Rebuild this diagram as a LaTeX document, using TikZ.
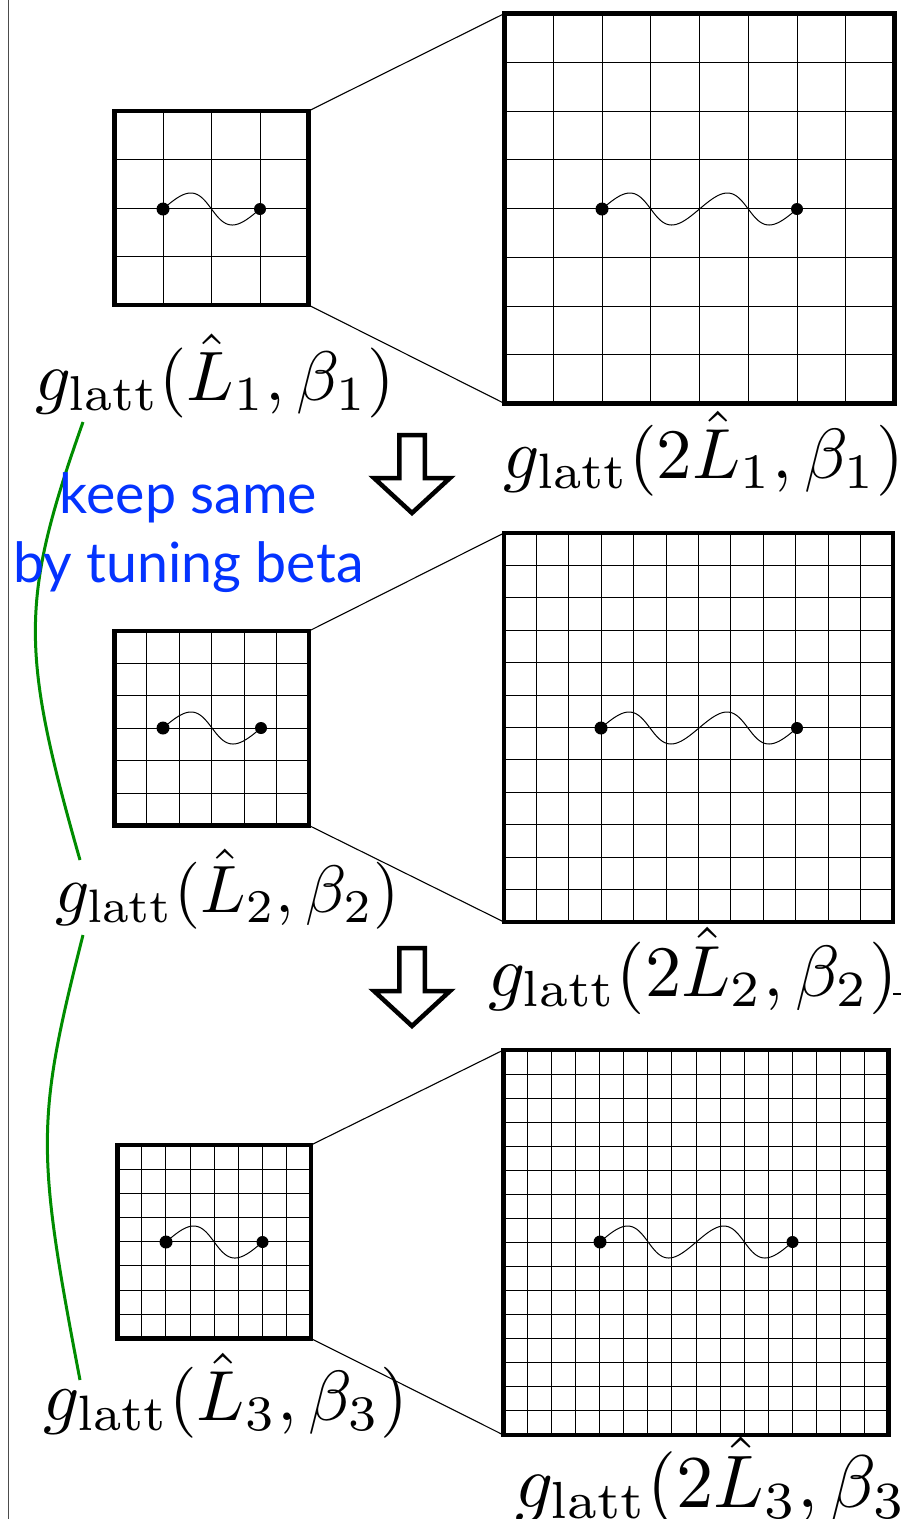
\documentclass[tikz,border=0pt]{standalone}
\usepackage{fontspec}
\usepackage{graphicx}
\newfontfamily\gillfont{Lato}
\definecolor{kblue}{RGB}{4,51,255}
\definecolor{kgreen}{RGB}{0,140,0}
\tikzset{
  gridbox/.style={draw, line width=4.2pt, inner sep=0pt, outer sep=0pt},
  gline/.style={line width=1.5pt},
  zoomline/.style={line width=1.1pt},
  wave/.style={line width=1.0pt},
  dotA/.style={circle, fill, inner sep=0pt, minimum size=13pt},
  dotB/.style={circle, fill, inner sep=0pt, minimum size=12pt},
  lab/.style={anchor=base west, inner sep=0pt},
  bluetext/.style={anchor=base, inner sep=0pt, text=kblue, font=\gillfont\fontsize{55.5}{60}\selectfont},
  bigarrow/.style={line width=4.5pt, line join=miter, fill=white},
  greenline/.style={kgreen, line width=3pt},
  frameline/.style={black!70, line width=1pt},
}
% grid: name, x0, y0, size, cells
\newcommand\latgrid[5]{%
  \pgfmathsetmacro\gs{#4/#5}%
  \pgfmathtruncatemacro\gm{#5-1}%
  \foreach \k in {1,...,\gm}{%
    \draw[gline] ({floor(#2+\k*\gs)+0.5},{#3}) -- ({floor(#2+\k*\gs)+0.5},{#3+#4});
    \draw[gline] ({#2},{floor(#3+\k*\gs)+0.5}) -- ({#2+#4},{floor(#3+\k*\gs)+0.5});
  }%
  \node[gridbox, minimum size=#4pt] (#1) at ({#2+#4/2},{#3+#4/2}) {};
}
% wave: name, xa, xb, y, end angle (360 per period)
\newcommand\wavy[5]{%
  \pgfmathsetmacro\wp{(#3-#2)/(#5/360)}%
  \draw[wave] plot[domain=0:#5, samples=121, variable=\t, smooth]
     ({#2+\wp*(\t/360)+3.5*sin(\t)},{#4-16*sin(\t)});
  \node[dotA] (#1a) at (#2,#4) {};
  \node[dotB] (#1b) at (#3,#4) {};
}
% hollow down arrow: name, centre x, top y
\newcommand\dnarrow[3]{%
  \coordinate (#1) at (#2,#3);
  \draw[bigarrow] ([xshift=-12.75pt]#1) -- ([xshift=12.75pt]#1)
    -- ([xshift=12.75pt,yshift=-43pt]#1) -- ([xshift=38pt,yshift=-43pt]#1)
    -- ([yshift=-78pt]#1) -- ([xshift=-38pt,yshift=-43pt]#1)
    -- ([xshift=-12.75pt,yshift=-43pt]#1) -- cycle;
}
\begin{document}
\begin{tikzpicture}[x=1pt,y=-1pt]
\useasboundingbox (0,0) rectangle (901,1519);
% left frame line
\coordinate (ft) at (8,0);
\coordinate (fb) at (8,1519);
\draw[frameline] (ft) -- (fb);

% panel 1
\latgrid{s1}{114.5}{111}{194}{4}
\latgrid{b1}{504.5}{13.5}{390}{8}
\wavy{w1}{163}{260}{209}{360}
\wavy{W1}{602}{797}{209}{720}
\draw[zoomline] (s1.north east) -- (b1.north west);
\draw[zoomline] (s1.south east) -- (b1.south west);

% panel 2
\latgrid{s2}{114.5}{631}{194.5}{6}
\latgrid{b2}{504}{533}{389}{12}
\wavy{w2}{163}{261}{728}{360}
\wavy{W2}{601}{797}{728}{720}
\draw[zoomline] (s2.north east) -- (b2.north west);
\draw[zoomline] (s2.south east) -- (b2.south west);

% panel 3
\latgrid{s3}{117.5}{1145}{193.5}{8}
\latgrid{b3}{503.5}{1050}{385}{16}
\wavy{w3}{166}{262.5}{1242}{360}
\wavy{W3}{600}{792.5}{1242}{720}
\draw[zoomline] (s3.north east) -- (b3.north west);
\draw[zoomline] (s3.south east) -- (b3.south west);

% arrows
\dnarrow{a1}{412}{435}
\dnarrow{a2}{412}{948}

% labels
\node[lab] (l1) at (35,400) {\scalebox{7}{$g_{\mathrm{latt}}(\hat L_1,\beta_1)$}};
\node[lab] (r1) at (503,478) {\scalebox{7.1}{$g_{\mathrm{latt}}(2\hat L_1,\beta_1)$}};
\node[lab] (l2) at (55,912) {\scalebox{6.7}{$g_{\mathrm{latt}}(\hat L_2,\beta_2)$}};
\node[lab] (r2) at (488,996) {\scalebox{7.25}{$g_{\mathrm{latt}}(2\hat L_2,\beta_2)$}};
\node[lab] (l3) at (43,1420) {\scalebox{7.1}{$g_{\mathrm{latt}}(\hat L_3,\beta_3)$}};
\node[lab] (r3) at (515,1507) {\scalebox{7.45}{$g_{\mathrm{latt}}(2\hat L_3,\beta_3)$}};
\coordinate (dsa) at (893,994);
\coordinate (dsb) at (901,994);
\draw[line width=1.5pt] (dsa) -- (dsb);

% green curves
\coordinate (g1a) at (83,422);
\coordinate (g1b) at (80,860);
\coordinate (g2a) at (83,935);
\coordinate (g2b) at (80,1380);
\draw[greenline] (g1a) .. controls (20,600) and (20,650) .. (g1b);
\draw[greenline] (g2a) .. controls (36,1120) and (36,1150) .. (g2b);

% blue text
\node[bluetext] (t1) at (188.5,513) {keep same};
\node[bluetext] (t2) at (188.5,582) {by tuning beta};
\end{tikzpicture}
\end{document}
